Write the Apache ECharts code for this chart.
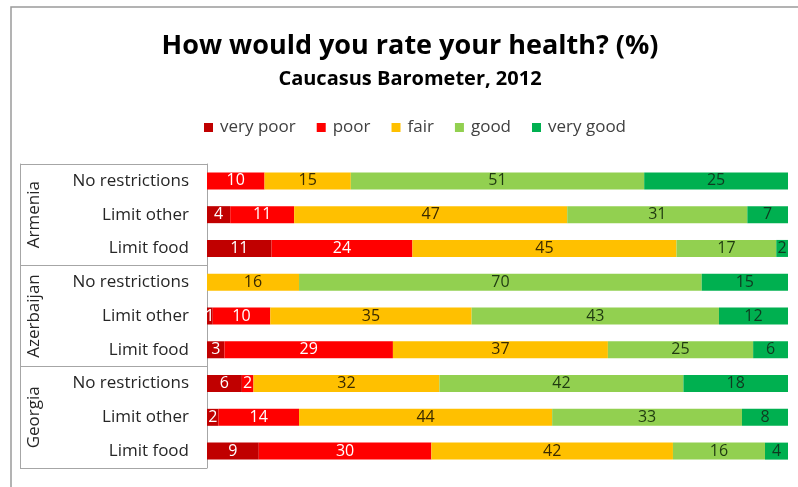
<!DOCTYPE html>
<html>
<head>
<meta charset="utf-8">
<script src="https://cdn.jsdelivr.net/npm/echarts@6/dist/echarts.min.js"></script>
<style>
  html, body { margin: 0; padding: 0; background: #fff; }
  #chart { width: 798px; height: 487px; }
</style>
</head>
<body>
<div id="chart"></div>
<script>
// Self-rated health by food / other restrictions, Caucasus Barometer 2012 (%)
const countries = ['Armenia', 'Azerbaijan', 'Georgia'];
const groups = ['No restrictions', 'Limit other', 'Limit food'];
const seriesNames = ['very poor', 'poor', 'fair', 'good', 'very good'];

// one entry per bar row, top to bottom (country x group)
const veryPoor = [0, 4, 11, 0, 1, 3, 6, 2, 9];
const poor     = [10, 11, 24, 0, 10, 29, 2, 14, 30];
const fair     = [15, 47, 45, 16, 35, 37, 32, 44, 42];
const good     = [51, 31, 17, 70, 43, 25, 42, 33, 16];
const veryGood = [25, 7, 2, 15, 12, 6, 18, 8, 4];

const colors = ['#C00000', '#FF0000', '#FFC000', '#92D050', '#00B050'];
const labelColors = ['#ffffff', '#ffffff', '#3a2a00', '#1f3a10', '#0f3a20'];

const rowKeys = [];
countries.forEach(c => groups.forEach(g => rowKeys.push(c + '|' + g)));

const allSeries = [veryPoor, poor, fair, good, veryGood];
const rowTotals = rowKeys.map((_, i) => allSeries.reduce((s, arr) => s + arr[i], 0));

const FONT = '"Open Sans", Lato, sans-serif';

const chart = echarts.init(document.getElementById('chart'));
chart.setOption({
  animation: false,
  backgroundColor: '#ffffff',
  textStyle: { fontFamily: FONT },
  title: [
    {
      text: 'How would you rate your health? (%)',
      left: 405, top: 28, textAlign: 'center',
      textStyle: { fontSize: 27, fontWeight: 'bold', color: '#000', fontFamily: FONT }
    },
    {
      text: 'Caucasus Barometer, 2012',
      left: 405, top: 64, textAlign: 'center',
      textStyle: { fontSize: 20, fontWeight: 'bold', color: '#000', fontFamily: FONT }
    }
  ],
  legend: {
    data: seriesNames,
    top: 114, left: 199,
    icon: 'rect', itemWidth: 9, itemHeight: 9, itemGap: 21,
    textStyle: { fontSize: 17, color: '#404040', fontFamily: FONT, padding: [0, 0, 0, 2] },
    selectedMode: false
  },
  grid: { left: 207, right: 10, top: 164, bottom: 19 },
  xAxis: {
    type: 'value', min: 0, max: 100, show: false
  },
  yAxis: [
    {
      type: 'category', data: rowKeys, inverse: true,
      axisLine: { show: true, lineStyle: { color: '#a6a6a6', width: 1 } },
      axisTick: { show: false },
      axisLabel: {
        interval: 0, margin: 18, fontSize: 17, color: '#262626', fontFamily: FONT,
        formatter: v => v.split('|')[1]
      }
    },
    {
      type: 'category', data: countries, inverse: true,
      position: 'left', offset: 187,
      axisLine: { show: true, lineStyle: { color: '#a6a6a6', width: 1 } },
      axisTick: { show: true, inside: true, interval: 0, length: 187, alignWithLabel: false,
                  lineStyle: { color: '#a6a6a6', width: 1 } },
      axisLabel: {
        interval: 0, inside: true, rotate: 90, margin: 6, fontSize: 17, color: '#262626',
        fontFamily: FONT, align: 'center', verticalAlign: 'top'
      }
    }
  ],
  graphic: [
    {
      type: 'rect', silent: true, z: -1,
      shape: { x: 11, y: 7, width: 900, height: 600 },
      style: { fill: 'none', stroke: '#9a9a9a', lineWidth: 1.5 }
    }
  ],
  series: allSeries.map((arr, s) => ({
    name: seriesNames[s],
    type: 'bar',
    stack: 'share',
    yAxisIndex: 0,
    barWidth: 17,
    itemStyle: { color: colors[s] },
    label: {
      show: true, position: 'inside', fontSize: 16, fontFamily: FONT,
      color: labelColors[s],
      formatter: p => (p.data.raw > 0 ? String(p.data.raw) : '')
    },
    // each row is shown as a share of its own total
    data: arr.map((v, i) => ({ value: v / rowTotals[i] * 100, raw: v }))
  }))
});
</script>
</body>
</html>
